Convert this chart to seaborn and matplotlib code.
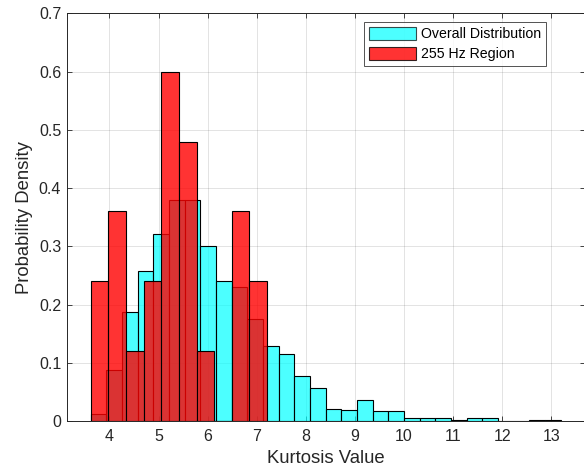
import numpy as np
import pandas as pd
import matplotlib
matplotlib.use("Agg")
import matplotlib.pyplot as plt
import seaborn as sns
from matplotlib.patches import Patch

# ---- data ----
overall_start = 3.62
overall_width = 0.319
overall_density = [0.012, 0.088, 0.188, 0.258, 0.322, 0.380, 0.380, 0.301, 0.240, 0.231,
                   0.176, 0.130, 0.115, 0.078, 0.058, 0.021, 0.020, 0.036, 0.018, 0.018,
                   0.006, 0.006, 0.006, 0.003, 0.006, 0.006, 0.0, 0.0, 0.003, 0.003]

region_start = 3.62
region_width = 0.359
region_density = [0.24, 0.36, 0.12, 0.24, 0.60, 0.48, 0.12, 0.0, 0.36, 0.24]

x_ticks = [4, 5, 6, 7, 8, 9, 10, 11, 12, 13]
y_ticks = [0, 0.1, 0.2, 0.3, 0.4, 0.5, 0.6, 0.7]
y_ticklabels = ["0", "0.1", "0.2", "0.3", "0.4", "0.5", "0.6", "0.7"]
labels = ["Overall Distribution", "255 Hz Region"]

sns.set_style("white")
plt.rcParams['font.family'] = ['Liberation Sans', 'DejaVu Sans']

o_n = len(overall_density)
o_df = pd.DataFrame({"x": overall_start + overall_width * (np.arange(o_n) + 0.5),
                     "w": overall_density})
r_n = len(region_density)
r_df = pd.DataFrame({"x": region_start + region_width * (np.arange(r_n) + 0.5),
                     "w": region_density})

fig = plt.figure(figsize=(5.84, 4.72), dpi=100)
ax = fig.add_axes([0.1142, 0.1074, 0.887, 0.8644])

axcol = (0.15, 0.15, 0.15)
cyan = (0.0, 1.0, 1.0)
red = (1.0, 0.0, 0.0)

sns.histplot(data=o_df, x="x", weights="w", binwidth=overall_width,
             binrange=(overall_start, overall_start + overall_width * o_n), stat="count",
             color=cyan, alpha=0.7, edgecolor="black", linewidth=0.8, ax=ax)
sns.histplot(data=r_df, x="x", weights="w", binwidth=region_width,
             binrange=(region_start, region_start + region_width * r_n), stat="count",
             color=red, alpha=0.8, edgecolor="black", linewidth=0.8, ax=ax)

ax.set_xlim(3.13, 13.68)
ax.set_ylim(0, 0.7)
ax.set_xticks(x_ticks)
ax.set_yticks(y_ticks)
ax.set_yticklabels(y_ticklabels)
ax.grid(True, color=(0.15, 0.15, 0.15), alpha=0.15, linewidth=0.6)
ax.set_axisbelow(True)

ax.tick_params(direction="in", length=3.6, width=0.6, colors=axcol, labelcolor=axcol,
               labelsize=11.5, top=True, right=True, bottom=True, left=True)
ax.tick_params(axis="x", pad=5.5)
ax.tick_params(axis="y", pad=4)
for s in ax.spines.values():
    s.set_color(axcol)
    s.set_linewidth(0.7)
    s.set_visible(True)

ax.set_xlabel("Kurtosis Value", fontsize=13.3, color=axcol, labelpad=4.5)
ax.set_ylabel("Probability Density", fontsize=13.3, color=axcol, labelpad=4)

handles = [Patch(facecolor=cyan, alpha=0.7, edgecolor="black", linewidth=0.8),
           Patch(facecolor=red, alpha=0.8, edgecolor="black", linewidth=0.8)]
leg = ax.legend(handles, labels, loc="upper right", bbox_to_anchor=(0.9257, 0.9794),
                borderaxespad=0, fontsize=10.2, frameon=True, fancybox=False,
                handlelength=3.3, handleheight=1.1, handletextpad=0.35,
                labelspacing=0.37, borderpad=0.35)
leg.get_frame().set_edgecolor(axcol)
leg.get_frame().set_linewidth(0.7)
for t in leg.get_texts():
    t.set_color("black")

fig.savefig("out.png", dpi=100)
